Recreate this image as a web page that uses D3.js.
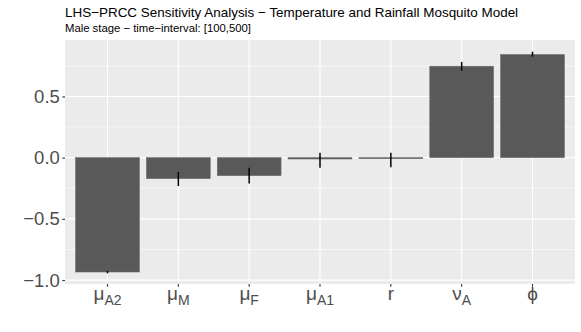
<!DOCTYPE html>
<html>
<head>
<meta charset="utf-8">
<script src="https://cdn.jsdelivr.net/npm/d3@7"></script>
<style>
  body { margin: 0; background: #fff; }
  text { font-family: "Liberation Sans", Arial, sans-serif; }
</style>
</head>
<body>
<div id="chart"></div>
<script>
// Parameters (base symbol + subscript) and their PRCC values
const paramBase = ["μ", "μ", "μ", "μ", "r", "ν", "ϕ"];
const paramSub  = ["A2", "M", "F", "A1", "", "A", ""];
const prcc      = [-0.934, -0.171, -0.147, -0.011, -0.008, 0.747, 0.842];
const errLow    = [-0.945, -0.232, -0.212, -0.082, -0.078, 0.711, 0.825];
const errHigh   = [-0.925, -0.117, -0.082, 0.040, 0.040, 0.782, 0.866];
const yTicks    = [-1.0, -0.5, 0.0, 0.5];
const yMinor    = [-0.75, -0.25, 0.25, 0.75];

const width = 581, height = 332;
const margin = {top: 40, right: 6, bottom: 48, left: 65};

const data = paramBase.map((b, i) => ({
    key: i, base: b, sub: paramSub[i], value: prcc[i], lo: errLow[i], hi: errHigh[i]
}));

const svg = d3.select("#chart").append("svg")
    .attr("width", width)
    .attr("height", height);

// Scales
const x = d3.scaleBand()
    .domain(data.map(d => d.key))
    .range([margin.left, width - margin.right])
    .paddingInner(0.1)
    .paddingOuter(0.15);

const y = d3.scaleLinear()
    .domain([-1.032, 0.961])
    .range([height - margin.bottom, margin.top]);

// Panel background
svg.append("rect")
    .attr("x", margin.left)
    .attr("y", margin.top)
    .attr("width", width - margin.left - margin.right)
    .attr("height", height - margin.top - margin.bottom)
    .attr("fill", "#ebebeb");

// Grid lines
svg.append("g").selectAll("line")
    .data(yMinor)
    .join("line")
    .attr("x1", margin.left).attr("x2", width - margin.right)
    .attr("y1", d => y(d)).attr("y2", d => y(d))
    .attr("stroke", "#fff").attr("stroke-width", 0.6);

svg.append("g").selectAll("line")
    .data(yTicks)
    .join("line")
    .attr("x1", margin.left).attr("x2", width - margin.right)
    .attr("y1", d => y(d)).attr("y2", d => y(d))
    .attr("stroke", "#fff").attr("stroke-width", 1.1);

svg.append("g").selectAll("line")
    .data(data)
    .join("line")
    .attr("x1", d => x(d.key) + x.bandwidth() / 2)
    .attr("x2", d => x(d.key) + x.bandwidth() / 2)
    .attr("y1", margin.top).attr("y2", height - margin.bottom)
    .attr("stroke", "#fff").attr("stroke-width", 1.1);

// Bars
svg.append("g").selectAll("rect")
    .data(data)
    .join("rect")
    .attr("x", d => x(d.key))
    .attr("width", x.bandwidth())
    .attr("y", d => y(Math.max(0, d.value)))
    .attr("height", d => Math.abs(y(d.value) - y(0)))
    .attr("fill", "#595959")
    .attr("stroke", "#6a6a6a")
    .attr("stroke-width", 0.6);

// Error bars
svg.append("g").selectAll("line")
    .data(data)
    .join("line")
    .attr("x1", d => x(d.key) + x.bandwidth() / 2)
    .attr("x2", d => x(d.key) + x.bandwidth() / 2)
    .attr("y1", d => y(d.lo))
    .attr("y2", d => y(d.hi))
    .attr("stroke", "#000")
    .attr("stroke-width", 1.5);

// Y axis
const yAxis = svg.append("g")
    .attr("transform", `translate(${margin.left},0)`)
    .call(d3.axisLeft(y).tickValues(yTicks).tickSize(2.7).tickPadding(2.5)
        .tickFormat(d => d3.format(".1f")(d).replace("-", "−")));
yAxis.select(".domain").remove();
yAxis.selectAll(".tick line").attr("stroke", "#333").attr("stroke-width", 1.1);
yAxis.selectAll(".tick text")
    .attr("fill", "#4d4d4d")
    .attr("font-size", "18.5px")
    .attr("font-family", "Liberation Sans, Arial, sans-serif");

// X axis ticks
const xBase = height - margin.bottom;
svg.append("g").selectAll("line")
    .data(data)
    .join("line")
    .attr("x1", d => x(d.key) + x.bandwidth() / 2)
    .attr("x2", d => x(d.key) + x.bandwidth() / 2)
    .attr("y1", xBase).attr("y2", xBase + 2.7)
    .attr("stroke", "#333").attr("stroke-width", 1.1);

// X labels with subscripts
const xl = svg.append("g").selectAll("text")
    .data(data)
    .join("text")
    .attr("x", d => x(d.key) + x.bandwidth() / 2)
    .attr("y", 300)
    .attr("text-anchor", "middle")
    .attr("fill", "#4d4d4d")
    .attr("font-size", "19px");
xl.append("tspan").text(d => d.base);
xl.filter(d => d.sub).append("tspan")
    .attr("dy", 5)
    .attr("font-size", "14px")
    .text(d => d.sub);

// Titles
svg.append("text")
    .attr("x", 65).attr("y", 17)
    .attr("font-size", "13.45px")
    .attr("fill", "#000")
    .text("LHS−PRCC Sensitivity Analysis − Temperature and Rainfall Mosquito Model");

svg.append("text")
    .attr("x", 65).attr("y", 32)
    .attr("font-size", "11.3px")
    .attr("fill", "#000")
    .text("Male stage − time−interval: [100,500]");
</script>
</body>
</html>
